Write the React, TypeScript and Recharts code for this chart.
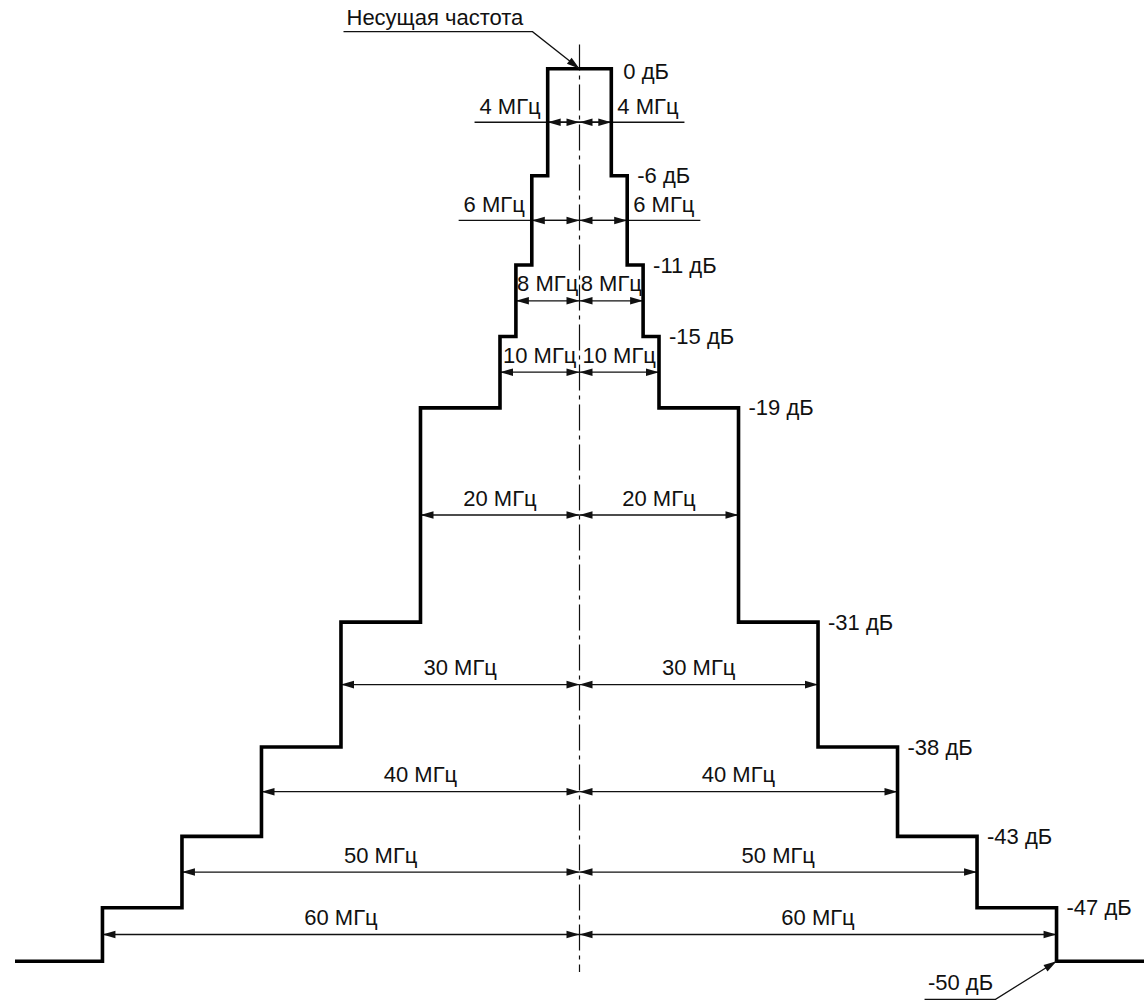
import { ComposedChart, Line, XAxis, YAxis, ReferenceLine, ReferenceDot } from 'recharts'

// band edges (MHz from carrier) and mask levels, inner to outer
const edgesMHz = [4, 6, 8, 10, 20, 30, 40, 50, 60]
const levelsDb = [0, -6, -11, -15, -19, -31, -38, -43, -47, -50]
// edges whose labels sit outside the step, on an extension line
const outsideEdges = [4, 6]
const carrierLabel = 'Несущая частота'
const unitMHz = 'МГц'
const unitDb = 'дБ'

const X_LIM = 71
const EXT = 9.2
const FONT = '"Liberation Sans", Arial, Helvetica, sans-serif'
const FS = 22
const INK = '#111'

const floorDb = levelsDb[levelsDb.length - 1]

const maskPoints = [
  { f: -X_LIM, db: floorDb },
  ...edgesMHz.map((f, i) => ({ f: -f, db: levelsDb[i] })).reverse(),
  ...edgesMHz.map((f, i) => ({ f, db: levelsDb[i + 1] })),
  { f: X_LIM, db: floorDb },
]

const arrowDb = edgesMHz.map((_, i) => (levelsDb[i] + levelsDb[i + 1]) / 2)

function head(x: number, y: number, ux: number, uy: number, len = 13, hw = 3.8) {
  const bx = x - ux * len
  const by = y - uy * len
  return `${x},${y} ${bx - uy * hw},${by + ux * hw} ${bx + uy * hw},${by - ux * hw}`
}

function DimArrow(p: any) {
  const { x1, y1, x2, y2 } = p
  const dx = x2 - x1
  const dy = y2 - y1
  const L = Math.hypot(dx, dy) || 1
  const ux = dx / L
  const uy = dy / L
  return (
    <g>
      <line x1={x1} y1={y1} x2={x2} y2={y2} stroke={INK} strokeWidth={1.3} />
      <polygon points={head(x2, y2, ux, uy)} fill={INK} />
      <polygon points={head(x1, y1, -ux, -uy)} fill={INK} />
    </g>
  )
}

function PlainLine(p: any) {
  return <line x1={p.x1} y1={p.y1} x2={p.x2} y2={p.y2} stroke={INK} strokeWidth={1.3} />
}

const txt = (x: number, y: number, s: string, anchor: 'start' | 'middle' | 'end' = 'middle') => (
  <text x={x} y={y} textAnchor={anchor} dominantBaseline="central" fontFamily={FONT} fontSize={FS} fill={INK}>
    {s}
  </text>
)

function CarrierNote(p: any) {
  const { cx, cy } = p
  const bx = cx - 47
  const by = cy - 37
  const L = Math.hypot(cx - bx, cy - by)
  return (
    <g>
      <polyline points={`${cx - 236},${by} ${bx},${by} ${cx},${cy}`} fill="none" stroke={INK} strokeWidth={1.3} />
      <polygon points={head(cx, cy, (cx - bx) / L, (cy - by) / L)} fill={INK} />
      {txt(cx - 233, cy - 51, carrierLabel, 'start')}
    </g>
  )
}

function FloorNote(p: any) {
  const { cx, cy } = p
  const bx = cx - 61
  const by = cy + 38
  const L = Math.hypot(cx - bx, cy - by)
  return (
    <g>
      <polyline points={`${cx - 132},${by} ${bx},${by} ${cx},${cy}`} fill="none" stroke={INK} strokeWidth={1.3} />
      <polygon points={head(cx, cy, (cx - bx) / L, (cy - by) / L)} fill={INK} />
      {txt(cx - 96, cy + 21, `${floorDb} ${unitDb}`)}
    </g>
  )
}

export default function App() {
  return (
    <div style={{ position: 'absolute', left: 0, top: 0, width: 1145, height: 1001, background: '#fff' }}>
      <ComposedChart width={1145} height={1001} margin={{ top: 33, right: 1, bottom: 4, left: 15 }}>
        <XAxis dataKey="f" type="number" domain={[-X_LIM, X_LIM]} hide allowDataOverflow />
        <YAxis dataKey="db" type="number" domain={[-52, 2]} hide allowDataOverflow />

        {/* carrier axis, dash-dot */}
        <ReferenceLine
          segment={[{ x: 0, y: 1.35 }, { x: 0, y: -50.6 }]}
          stroke={INK}
          strokeWidth={1.2}
          strokeDasharray="26 5 4 5"
        />

        {/* extension lines for the narrow bands */}
        {outsideEdges.map((f) => {
          const y = arrowDb[edgesMHz.indexOf(f)]
          return (
            <ReferenceLine
              key={`ext${f}`}
              segment={[{ x: -f - EXT, y }, { x: f + EXT, y }]}
              shape={PlainLine}
            />
          )
        })}

        {edgesMHz.map((f, i) => (
          <ReferenceLine key={`l${f}`} segment={[{ x: -f, y: arrowDb[i] }, { x: 0, y: arrowDb[i] }]} shape={DimArrow} />
        ))}
        {edgesMHz.map((f, i) => (
          <ReferenceLine key={`r${f}`} segment={[{ x: 0, y: arrowDb[i] }, { x: f, y: arrowDb[i] }]} shape={DimArrow} />
        ))}

        {/* width labels */}
        {edgesMHz.map((f, i) => {
          const outside = outsideEdges.includes(f)
          const s = `${f} ${unitMHz}`
          return [
            <ReferenceDot
              key={`tl${f}`}
              x={outside ? -f : -f / 2}
              y={arrowDb[i]}
              r={0}
              shape={(p: any) => (outside ? txt(p.cx - 7, p.cy - 16, s, 'end') : txt(p.cx, p.cy - 17, s))}
            />,
            <ReferenceDot
              key={`tr${f}`}
              x={outside ? f : f / 2}
              y={arrowDb[i]}
              r={0}
              shape={(p: any) => (outside ? txt(p.cx + 6, p.cy - 16, s, 'start') : txt(p.cx, p.cy - 17, s))}
            />,
          ]
        })}

        {/* level labels at the right side */}
        {edgesMHz.map((f, i) => (
          <ReferenceDot
            key={`db${f}`}
            x={f}
            y={levelsDb[i]}
            r={0}
            shape={(p: any) => txt(p.cx + (i === 0 ? 12 : 10), p.cy + (i === 0 ? 3 : 0), `${levelsDb[i]} ${unitDb}`, 'start')}
          />
        ))}

        <ReferenceDot x={0} y={levelsDb[0]} r={0} shape={CarrierNote} />
        <ReferenceDot x={edgesMHz[edgesMHz.length - 1]} y={floorDb} r={0} shape={FloorNote} />

        <Line
          data={maskPoints}
          dataKey="db"
          type="stepAfter"
          stroke="#000"
          strokeWidth={3.6}
          strokeLinejoin="miter"
          strokeLinecap="square"
          dot={false}
          isAnimationActive={false}
        />
      </ComposedChart>
    </div>
  )
}
